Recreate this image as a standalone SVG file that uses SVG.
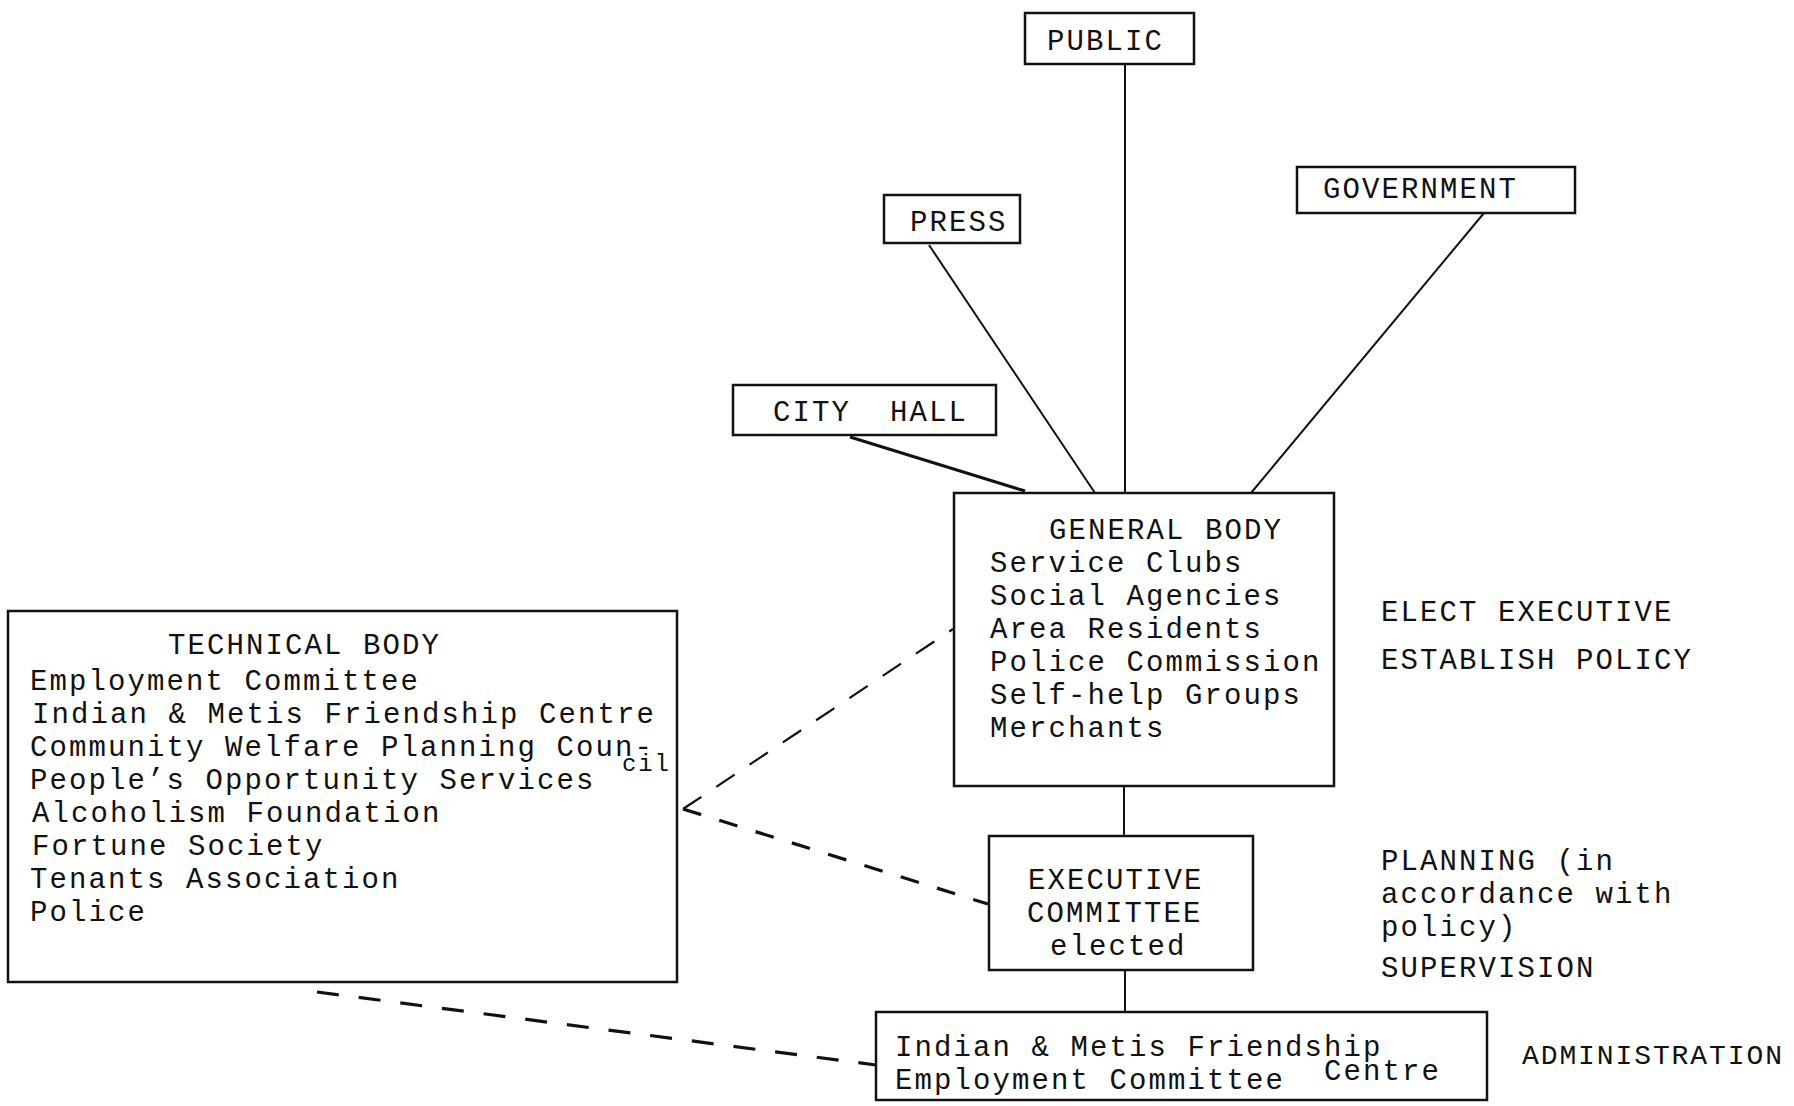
<svg xmlns="http://www.w3.org/2000/svg" width="1794" height="1106" viewBox="0 0 1794 1106">
<style>
.box{fill:none;stroke:#111;stroke-width:2.5}
.t{font-family:"Liberation Mono","DejaVu Sans Mono",monospace;font-size:29px;letter-spacing:2.1px;fill:#111}
.ln{stroke:#111;stroke-width:2;fill:none}
.d1{stroke:#111;stroke-width:2.2;fill:none;stroke-dasharray:22 18}
.d2{stroke:#111;stroke-width:3.2;fill:none;stroke-dasharray:19 19}
</style>
<rect width="1794" height="1106" fill="#fff"/>
<g id="connectors">
<line class="ln" x1="1125" y1="64" x2="1125" y2="493"/>
<line class="ln" x1="929" y1="245" x2="1095" y2="493"/>
<line class="ln" x1="1484" y1="213" x2="1251" y2="493"/>
<line class="ln" x1="850" y1="437" x2="1025" y2="491" style="stroke-width:3"/>
<line class="ln" x1="1124" y1="786" x2="1124" y2="836"/>
<line class="ln" x1="1125" y1="970" x2="1125" y2="1012"/>
<line class="d1" x1="683" y1="809" x2="953" y2="629"/>
<line class="d2" x1="683" y1="809" x2="988" y2="904"/>
<line class="d2" x1="317" y1="992" x2="876" y2="1065" style="stroke-dasharray:22 20"/>
</g>
<g id="public">
<rect class="box" x="1025" y="13" width="169" height="51"/>
<text class="t" x="1047" y="50">PUBLIC</text>
</g>
<g id="press">
<rect class="box" x="884" y="195" width="136" height="48"/>
<text class="t" x="910" y="231">PRESS</text>
</g>
<g id="government">
<rect class="box" x="1297" y="167" width="278" height="46"/>
<text class="t" x="1323" y="198">GOVERNMENT</text>
</g>
<g id="cityhall">
<rect class="box" x="733" y="385" width="263" height="50"/>
<text class="t" x="773" y="421" xml:space="preserve">CITY  HALL</text>
</g>
<g id="generalbody">
<rect class="box" x="954" y="493" width="380" height="293"/>
<text class="t" x="1049" y="539">GENERAL BODY</text>
<text class="t" x="990" y="572">Service Clubs</text>
<text class="t" x="990" y="605">Social Agencies</text>
<text class="t" x="990" y="638">Area Residents</text>
<text class="t" x="990" y="671">Police Commission</text>
<text class="t" x="990" y="704">Self-help Groups</text>
<text class="t" x="990" y="737">Merchants</text>
</g>
<g id="generalbody-role">
<text class="t" x="1381" y="621">ELECT EXECUTIVE</text>
<text class="t" x="1381" y="669">ESTABLISH POLICY</text>
</g>
<g id="technicalbody">
<rect class="box" x="8" y="611" width="669" height="371"/>
<text class="t" x="168" y="654">TECHNICAL BODY</text>
<text class="t" x="30" y="690">Employment Committee</text>
<text class="t" x="32" y="723">Indian &amp; Metis Friendship Centre</text>
<text class="t" x="30" y="756">Community Welfare Planning Coun-</text>
<text class="t" x="622" y="771" style="font-size:24px;letter-spacing:1px" textLength="48">cil</text>
<text class="t" x="30" y="789">People’s Opportunity Services</text>
<text class="t" x="32" y="822">Alcoholism Foundation</text>
<text class="t" x="32" y="855">Fortune Society</text>
<text class="t" x="30" y="888">Tenants Association</text>
<text class="t" x="30" y="921">Police</text>
</g>
<g id="executive">
<rect class="box" x="989" y="836" width="264" height="134"/>
<text class="t" x="1028" y="889">EXECUTIVE</text>
<text class="t" x="1027" y="922">COMMITTEE</text>
<text class="t" x="1050" y="955">elected</text>
</g>
<g id="executive-role">
<text class="t" x="1381" y="870">PLANNING (in</text>
<text class="t" x="1381" y="903">accordance with</text>
<text class="t" x="1381" y="936">policy)</text>
<text class="t" x="1381" y="977">SUPERVISION</text>
</g>
<g id="administration">
<rect class="box" x="876" y="1012" width="611" height="88"/>
<text class="t" x="895" y="1056">Indian &amp; Metis Friendship</text>
<text class="t" x="1324" y="1080">Centre</text>
<text class="t" x="895" y="1089">Employment Committee</text>
</g>
<g id="administration-role">
<text class="t" x="1522" y="1064" style="font-size:28px;letter-spacing:1.9px">ADMINISTRATION</text>
</g>
</svg>
